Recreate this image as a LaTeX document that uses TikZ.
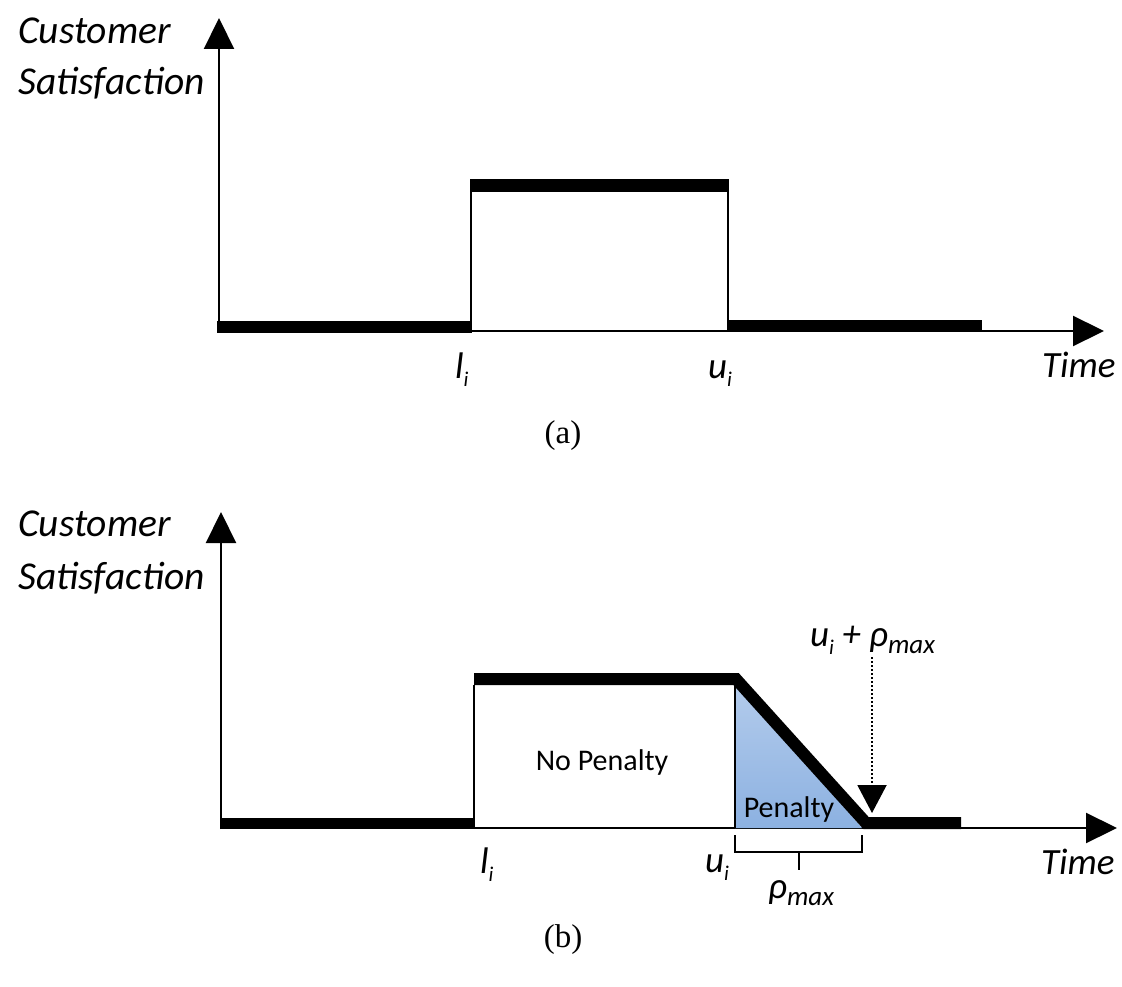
\documentclass[tikz,border=0pt]{standalone}
\usepackage{fontspec}
\setmainfont{Carlito}
\newfontfamily\capfont{Liberation Serif}
\usetikzlibrary{arrows.meta}
\newcommand{\lowsub}[1]{\raisebox{-0.22em}{\fontsize{21}{21}\selectfont\itshape #1}}
\newcommand{\maxsub}[1]{\raisebox{-0.2em}{\fontsize{27}{27}\selectfont\itshape #1}}
\definecolor{pentop}{RGB}{180,204,236}
\definecolor{penbot}{RGB}{140,177,225}
\begin{document}
\begin{tikzpicture}[x=1pt,y=-1pt,
  axisline/.style={line width=2.2pt,-{Triangle[length=31pt,width=30pt]}},
  thinline/.style={line width=1.6pt},
  bar/.style={fill=black},
  lbl/.style={font=\fontsize{37}{40}\selectfont\itshape,inner sep=0pt,anchor=base west},
  ylbl/.style={font=\fontsize{39.5}{42}\selectfont\itshape,inner sep=0pt,anchor=base west},
  inlbl/.style={font=\fontsize{30}{32}\selectfont,inner sep=0pt,anchor=base},
  captext/.style={font=\fontsize{33}{36}\selectfont\capfont,inner sep=0pt,anchor=base}]
\useasboundingbox (0,0) rectangle (1122,987);
% ---------------- (a) ----------------
\coordinate (aO) at (219,332);
\coordinate (aY) at (219,18);
\coordinate (aXo) at (219,331);
\coordinate (aX) at (1104,331);
\draw[axisline] (aO) -- (aY);
\draw[axisline] (aXo) -- (aX);
\fill[bar] (217,321) rectangle (472,333);
\fill[bar] (470,179) rectangle (729,192);
\fill[bar] (728,320) rectangle (982,332);
\coordinate (aL1) at (471,192); \coordinate (aL2) at (471,331);
\coordinate (aR1) at (728,192); \coordinate (aR2) at (728,331);
\draw[thinline] (aL1) -- (aL2);
\draw[thinline] (aR1) -- (aR2);
\node[ylbl] (aC) at (18,44) {Customer};
\node[ylbl] (aS) at (18,95) {Satisfaction};
\node[lbl] (aT) at (1042,377) {Time};
\node[lbl] (ali) at (455,378) {l\lowsub{i}};
\node[lbl] (aui) at (708,378) {u\lowsub{i}};
\node[captext] (acap) at (563,443) {(a)};
% ---------------- (b) ----------------
\coordinate (bO) at (221,829);
\coordinate (bY) at (221,512);
\coordinate (bXo) at (221,828);
\coordinate (bX) at (1117,828);
\draw[axisline] (bO) -- (bY);
\draw[axisline] (bXo) -- (bX);
\fill[bar] (222,818) rectangle (474,829);
\coordinate (bL1) at (474,685); \coordinate (bL2) at (474,828);
\draw[thinline] (bL1) -- (bL2);
% penalty triangle
\coordinate (pA) at (735,681);
\coordinate (pB) at (735,828);
\coordinate (pC) at (862,828);
\shade[top color=pentop,bottom color=penbot] (pA) -- (pB) -- (pC) -- cycle;
\draw[thinline] (735,686) -- (pB);
% thick profile
\coordinate (t1) at (474,679);
\coordinate (t2) at (736,679);
\coordinate (t3) at (866,823);
\coordinate (t4) at (961,823);
\draw[line width=12pt,line join=miter,miter limit=2] (t1) -- (t2) -- (t3) -- (t4);
% bracket
\coordinate (k1) at (735,835); \coordinate (k2) at (735,852);
\coordinate (k3) at (862,852); \coordinate (k4) at (862,835);
\coordinate (k5) at (799,852); \coordinate (k6) at (799,870);
\draw[thinline] (k1) -- (k2) -- (k3) -- (k4);
\draw[thinline] (k5) -- (k6);
% dotted arrow
\coordinate (d1) at (872,657);
\coordinate (d2) at (872,813);
\draw[line width=2pt,dash pattern=on 2pt off 2pt,-{Triangle[length=28pt,width=29pt]}] (d1) -- (d2);
\node[ylbl] (bC) at (18,536) {Customer};
\node[ylbl] (bS) at (18,589) {Satisfaction};
\node[lbl] (bT) at (1041,874) {Time};
\node[lbl] (bli) at (480,873) {l\lowsub{i}};
\node[lbl] (bui) at (705,872) {u\lowsub{i}};
\node[lbl] (brho) at (768,898) {ρ\maxsub{max}};
\node[lbl] (bsum) at (810,646) {u\lowsub{i} + ρ\maxsub{max}};
\node[inlbl] (np) at (602,770) {No Penalty};
\node[inlbl] (pen) at (789,817) {Penalty};
\node[captext] (bcap) at (563,947) {(b)};
\end{tikzpicture}
\end{document}
